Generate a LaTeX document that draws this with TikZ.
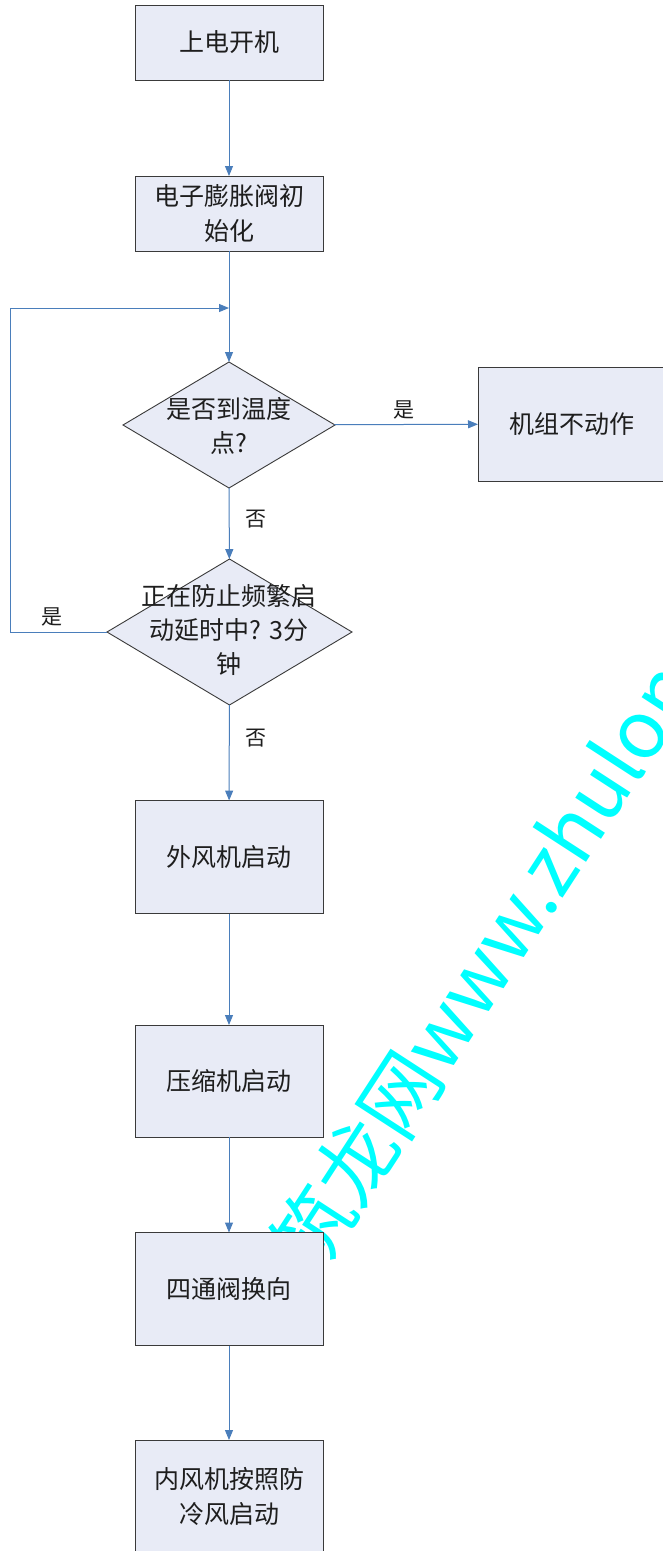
\documentclass[tikz,border=0pt]{standalone}
\usepackage{fontspec}
\setmainfont{Noto Sans CJK SC}
\usetikzlibrary{shapes.geometric,arrows.meta}
\definecolor{boxfill}{HTML}{E8EBF6}
\definecolor{boxline}{HTML}{3A3A3A}
\definecolor{arr}{HTML}{4A7EBB}
\definecolor{wm}{HTML}{00FFFF}
\definecolor{txt}{HTML}{1E1E1E}
\tikzset{
  proc/.style={draw=boxline, fill=boxfill, line width=0.9pt, minimum width=188pt,
    inner sep=0pt, outer sep=0pt, align=center, text=txt,
    font=\fontsize{25}{35}\selectfont},
  decide/.style={diamond, draw=boxline, fill=boxfill, line width=0.9pt,
    inner sep=0pt, outer sep=0pt},
  dtext/.style={align=center, text=txt, inner sep=0pt, font=\fontsize{25}{34}\selectfont},
  lbl/.style={text=txt, inner sep=0pt, font=\fontsize{21}{21}\selectfont},
  flow/.style={draw=arr, line width=1pt, -{Triangle[length=10pt,width=8pt]}},
  wmark/.style={text=wm, inner sep=0pt, font=\fontsize{80}{80}\selectfont}
}
\begin{document}
\begin{tikzpicture}[x=1pt,y=-1pt]
\useasboundingbox (0,0) rectangle (662,1551);
\fill[white] (0,0) rectangle (662,1551);
% watermark
\node[wmark, anchor=west, rotate=57] (wmk) at (296,1266) {筑龙网www.zhulong};
% nodes
\node[proc, minimum height=75pt] (b1) at (229,42.5) {上电开机};
\node[proc, minimum height=75pt] (b2) at (229,213.5) {电子膨胀阀初\\始化};
\node[decide, minimum width=212pt, minimum height=126pt] (d1) at (229,425) {};
\node[dtext] (d1t) at (229,426) {是否到温度\\点?};
\node[proc, minimum height=114pt] (b3) at (572,424) {机组不动作};
\node[decide, minimum width=245pt, minimum height=146pt] (d2) at (229.5,632) {};
\node[dtext] (d2t) at (229,630) {正在防止频繁启\\动延时中? 3分\\钟};
\node[proc, minimum height=113pt] (b4) at (229,857) {外风机启动};
\node[proc, minimum height=112pt] (b5) at (229,1081) {压缩机启动};
\node[proc, minimum height=113pt] (b6) at (229,1289) {四通阀换向};
\node[proc, minimum height=113pt] (b7) at (229,1496.5) {内风机按照防\\冷风启动};
% coordinates for loop
\coordinate (lp1) at (10,632);
\coordinate (lp3) at (229,308);
% connectors
\draw[flow] (b1) -- (b2);
\draw[flow] (b2) -- (d1);
\draw[flow] (d1) -- (b3);
\draw[flow] (d1) -- (d2);
\draw[flow] (d2.west) -- (lp1) |- (lp3);
\draw[flow] (d2) -- (b4);
\draw[flow] (b4) -- (b5);
\draw[flow] (b5) -- (b6);
\draw[flow] (b6) -- (b7);
% labels
\node[lbl] (l1) at (404,410) {是};
\node[lbl] (l2) at (256,519) {否};
\node[lbl] (l3) at (52,617) {是};
\node[lbl] (l4) at (256,738) {否};
\end{tikzpicture}
\end{document}
